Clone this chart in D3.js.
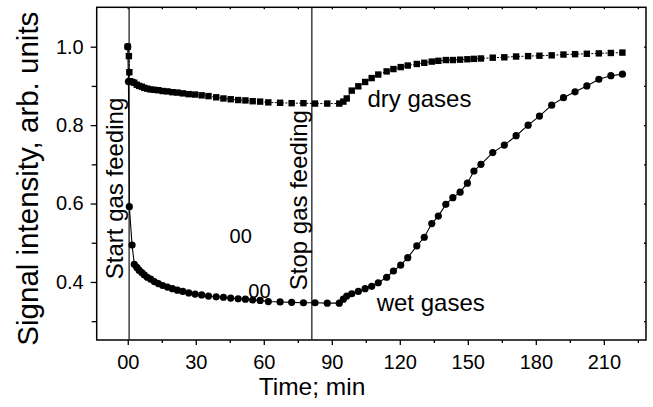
<!DOCTYPE html>
<html>
<head>
<meta charset="utf-8">
<script src="https://cdn.jsdelivr.net/npm/d3@7"></script>
<style>
  body { margin: 0; background: #fff; }
  svg { font-family: "Liberation Sans", Arial, sans-serif; }
</style>
</head>
<body>
<svg width="653" height="407"></svg>
<script>
// time (min) and signal values
const timeDry = [0, 0.5, 0.7, 1.0, 2.0, 2.9, 4.0, 5.0, 6.2, 7.3, 8.6, 10.1, 11.7, 13.5, 15.4, 17.5, 19.7, 21.9, 24.3, 26.9, 29.7, 32.6, 35.6, 39.0, 42.2, 45.4, 48.7, 51.9, 55.1, 58.4, 62.0, 67.2, 72.3, 77.5, 82.6, 88.0, 93.3, 95.1, 96.6, 98.8, 101.7, 104.7, 107.6, 110.5, 114.2, 117.2, 120.4, 123.5, 127.5, 130.8, 134.1, 137.0, 140.3, 143.4, 146.6, 149.8, 152.7, 155.8, 161.0, 166.1, 171.3, 176.6, 181.6, 187.0, 192.2, 197.3, 202.5, 207.8, 213.1, 218.2];
const dry = [1.0, 0.976, 0.935, 0.912, 0.910, 0.908, 0.903, 0.900, 0.898, 0.895, 0.893, 0.891, 0.890, 0.889, 0.887, 0.886, 0.884, 0.883, 0.881, 0.879, 0.878, 0.876, 0.874, 0.871, 0.868, 0.866, 0.864, 0.863, 0.861, 0.860, 0.858, 0.857, 0.856, 0.856, 0.855, 0.855, 0.855, 0.860, 0.868, 0.888, 0.899, 0.910, 0.920, 0.929, 0.937, 0.943, 0.948, 0.952, 0.956, 0.959, 0.962, 0.964, 0.966, 0.966, 0.967, 0.968, 0.969, 0.970, 0.972, 0.973, 0.975, 0.976, 0.977, 0.978, 0.980, 0.981, 0.982, 0.983, 0.984, 0.985];

const timeWet = [0, 0.3, 0.7, 1.9, 2.9, 4.0, 5.0, 6.2, 7.3, 8.6, 10.1, 11.7, 13.5, 15.4, 17.5, 19.7, 21.9, 24.3, 26.9, 29.7, 32.6, 35.6, 39.0, 42.2, 45.4, 48.7, 51.9, 55.1, 58.4, 62.0, 67.2, 72.3, 77.5, 82.6, 88.0, 93.3, 95.1, 96.6, 98.8, 101.7, 104.7, 107.6, 110.5, 114.2, 117.2, 120.4, 123.5, 127.5, 130.8, 134.1, 137.0, 140.3, 143.4, 146.6, 149.8, 152.7, 155.8, 161.0, 166.1, 171.3, 176.6, 181.6, 187.0, 192.2, 197.3, 202.5, 207.8, 213.1, 218.2];
const wet = [1.0, 0.911, 0.592, 0.494, 0.445, 0.437, 0.430, 0.424, 0.418, 0.412, 0.407, 0.401, 0.396, 0.391, 0.387, 0.383, 0.379, 0.376, 0.372, 0.369, 0.367, 0.364, 0.362, 0.361, 0.359, 0.357, 0.356, 0.354, 0.353, 0.350, 0.349, 0.348, 0.347, 0.347, 0.346, 0.346, 0.356, 0.364, 0.370, 0.376, 0.383, 0.389, 0.398, 0.412, 0.428, 0.443, 0.462, 0.492, 0.514, 0.549, 0.568, 0.598, 0.615, 0.629, 0.652, 0.683, 0.700, 0.730, 0.749, 0.773, 0.800, 0.823, 0.851, 0.870, 0.885, 0.900, 0.917, 0.926, 0.930];

const xMajor = [0, 30, 60, 90, 120, 150, 180, 210];
const xMinor = [15, 45, 75, 105, 135, 165, 195, 225];
const yMajor = [0.4, 0.6, 0.8, 1.0];
const yMinor = [0.3, 0.5, 0.7, 0.9];
const eventTimes = [0.6, 81.2];
const eventLabels = [
  { t: -1.9, v: 0.407, text: 'Start gas feeding' },
  { t: 79.0, v: 0.379, text: 'Stop gas feeding' }
];
const seriesLabels = [
  { t: 105.7, v: 0.847, text: 'dry gases' },
  { t: 109.8, v: 0.327, text: 'wet gases' }
];
const strayLabels = [
  { t: 49.8, v: 0.499, text: '00' },
  { t: 58.1, v: 0.359, text: '00' }
];

const svg = d3.select('svg');
const box = { left: 96.7, top: 7.3, right: 646, bottom: 340 };

const x = d3.scaleLinear().domain([-13.7, 228.6]).range([box.left, box.right]);
const y = d3.scaleLinear().domain([0.252, 1.1005]).range([box.bottom, box.top]);

// axes
svg.append('g')
    .attr('transform', `translate(0,${box.bottom})`)
    .call(d3.axisBottom(x).tickValues(xMajor).tickSize(5).tickSizeOuter(0).tickPadding(10)
      .tickFormat(d => d === 0 ? '00' : d));
svg.append('g')
    .attr('transform', `translate(0,${box.bottom})`)
    .call(d3.axisBottom(x).tickValues(xMinor).tickSize(3).tickSizeOuter(0).tickFormat(''));
svg.append('g')
    .attr('transform', `translate(${box.left},0)`)
    .call(d3.axisLeft(y).tickValues(yMajor).tickSize(6).tickSizeOuter(0).tickPadding(7)
      .tickFormat(d3.format('.1f')));
svg.append('g')
    .attr('transform', `translate(${box.left},0)`)
    .call(d3.axisLeft(y).tickValues(yMinor).tickSize(5).tickSizeOuter(0).tickFormat(''));
// small inner ticks on top and right
svg.append('g')
    .attr('transform', `translate(0,${box.top})`)
    .call(d3.axisBottom(x).tickValues(xMajor.concat(xMinor)).tickSize(2).tickSizeOuter(0).tickFormat(''));
svg.append('g')
    .attr('transform', `translate(${box.right},0)`)
    .call(d3.axisLeft(y).tickValues(yMajor.concat(yMinor)).tickSize(2).tickSizeOuter(0).tickFormat(''));

svg.selectAll('.domain').remove();
svg.selectAll('.tick line').attr('stroke', '#000').attr('stroke-width', 1.3);
svg.selectAll('.tick text').attr('font-size', 20).attr('fill', '#000')
    .attr('font-family', '"Liberation Sans", Arial, sans-serif');

// frame
svg.append('rect')
    .attr('x', box.left).attr('y', box.top)
    .attr('width', box.right - box.left).attr('height', box.bottom - box.top)
    .attr('fill', 'none').attr('stroke', '#000').attr('stroke-width', 1.5);

// gas on / off markers
svg.selectAll('line.event').data(eventTimes).join('line')
    .attr('class', 'event')
    .attr('x1', d => x(d)).attr('x2', d => x(d))
    .attr('y1', box.top).attr('y2', box.bottom)
    .attr('stroke', '#222').attr('stroke-width', 1.3);

const dryPts = timeDry.map((t, i) => [t, dry[i]]);
const wetPts = timeWet.map((t, i) => [t, wet[i]]);
const line = d3.line().x(d => x(d[0])).y(d => y(d[1]));

svg.append('path').datum(dryPts)
    .attr('d', line).attr('fill', 'none')
    .attr('stroke', '#000').attr('stroke-width', 1).attr('stroke-dasharray', '2,1.5');
svg.append('path').datum(wetPts)
    .attr('d', line).attr('fill', 'none')
    .attr('stroke', '#000').attr('stroke-width', 1.1);

svg.selectAll('rect.dry').data(dryPts).join('rect')
    .attr('class', 'dry')
    .attr('x', d => x(d[0]) - 3.2).attr('y', d => y(d[1]) - 3.2)
    .attr('width', 6.4).attr('height', 6.4).attr('fill', '#000');
svg.selectAll('circle.wet').data(wetPts).join('circle')
    .attr('class', 'wet')
    .attr('cx', d => x(d[0])).attr('cy', d => y(d[1]))
    .attr('r', 3.6).attr('fill', '#000');

// text
svg.selectAll('text.event').data(eventLabels).join('text')
    .attr('class', 'event')
    .attr('transform', d => `translate(${x(d.t)},${y(d.v)}) rotate(-90)`)
    .attr('font-size', 24).text(d => d.text);
svg.selectAll('text.series').data(seriesLabels).join('text')
    .attr('class', 'series')
    .attr('x', d => x(d.t)).attr('y', d => y(d.v))
    .attr('font-size', 24).text(d => d.text);
svg.selectAll('text.stray').data(strayLabels).join('text')
    .attr('class', 'stray')
    .attr('x', d => x(d.t)).attr('y', d => y(d.v))
    .attr('text-anchor', 'middle')
    .attr('font-size', 20).text(d => d.text);

svg.append('text')
    .attr('x', 312).attr('y', 395)
    .attr('text-anchor', 'middle').attr('font-size', 24.5)
    .text('Time; min');
svg.append('text')
    .attr('transform', `translate(38,${(box.top + box.bottom) / 2 + 5}) rotate(-90)`)
    .attr('text-anchor', 'middle').attr('font-size', 29.5)
    .text('Signal intensity, arb. units');
</script>
</body>
</html>
